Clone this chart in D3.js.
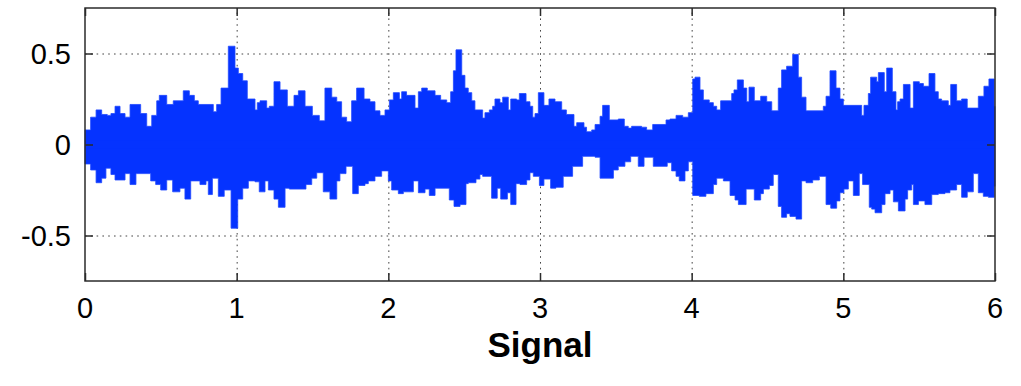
<!DOCTYPE html>
<meta charset="utf-8">
<script src="https://d3js.org/d3.v7.min.js"></script>
<style>
body { margin: 0; background: #fff; }
svg { font-family: "Liberation Sans", Arial, sans-serif; }
.grid line { stroke: #444; stroke-dasharray: 1.6,4.2; }
.grid path { stroke-width: 0; }
.tick-label { font-size: 29px; fill: #000; }
</style>
<body>
<div id="my_dataviz"></div>
<script>
// tick values
var xTicks = [0, 1, 2, 3, 4, 5, 6];
var yTicks = [-0.5, 0, 0.5];

// upper envelope of the signal (time in s, amplitude)
var upT = [0.00,0.037,0.073,0.11,0.147,0.171,0.198,0.231,0.264,0.297,0.367,0.407,0.44,0.473,0.49,0.539,0.582,0.648,0.688,0.721,
  0.747,0.846,0.868,0.897,0.945,0.989,1.011,1.04,1.07,1.121,1.136,1.154,1.198,1.215,1.246,1.286,1.334,1.378,1.407,1.451,
  1.499,1.545,1.582,1.627,1.66,1.692,1.725,1.758,1.791,1.84,1.879,1.912,1.945,1.978,2.007,2.033,2.073,2.088,2.12,2.176,
  2.198,2.22,2.257,2.308,2.345,2.385,2.411,2.429,2.446,2.484,2.505,2.527,2.55,2.571,2.622,2.637,2.666,2.688,2.703,2.736,
  2.754,2.791,2.807,2.846,2.864,2.908,2.934,2.952,2.967,2.989,3.026,3.059,3.099,3.143,3.174,3.224,3.242,3.29,3.307,3.341,
  3.363,3.396,3.413,3.457,3.516,3.556,3.582,3.604,3.67,3.703,3.743,3.831,3.857,3.897,3.941,3.978,4.007,4.022,4.055,4.077,
  4.116,4.143,4.165,4.191,4.264,4.279,4.301,4.341,4.363,4.378,4.413,4.455,4.495,4.528,4.571,4.593,4.626,4.666,4.703,4.725,
  4.754,4.868,4.886,4.912,4.952,4.978,5.0,5.121,5.136,5.165,5.18,5.22,5.231,5.27,5.286,5.323,5.347,5.358,5.374,5.396,
  5.44,5.462,5.501,5.528,5.565,5.604,5.626,5.648,5.692,5.708,5.747,5.78,5.817,5.89,5.927,5.96,5.995,6.0];
var upV = [0.08,0.15,0.19,0.165,0.16,0.17,0.21,0.17,0.15,0.22,0.17,0.10,0.16,0.24,0.27,0.22,0.24,0.295,0.27,0.24,
  0.22,0.18,0.22,0.31,0.54,0.42,0.39,0.35,0.25,0.19,0.23,0.24,0.20,0.21,0.345,0.30,0.21,0.27,0.295,0.21,
  0.16,0.13,0.31,0.26,0.235,0.15,0.125,0.24,0.31,0.25,0.235,0.185,0.16,0.19,0.245,0.285,0.25,0.29,0.27,0.20,
  0.29,0.31,0.295,0.27,0.245,0.23,0.29,0.405,0.52,0.38,0.31,0.285,0.24,0.19,0.145,0.175,0.19,0.21,0.25,0.23,
  0.26,0.19,0.25,0.245,0.28,0.235,0.21,0.15,0.17,0.285,0.215,0.25,0.235,0.19,0.165,0.10,0.12,0.095,0.07,0.08,
  0.11,0.155,0.215,0.135,0.14,0.10,0.09,0.10,0.095,0.08,0.11,0.135,0.14,0.16,0.15,0.175,0.36,0.37,0.30,0.245,
  0.23,0.21,0.19,0.24,0.28,0.30,0.355,0.31,0.235,0.315,0.24,0.265,0.235,0.185,0.31,0.41,0.43,0.495,0.37,0.26,
  0.185,0.21,0.265,0.405,0.31,0.25,0.215,0.16,0.215,0.28,0.37,0.345,0.395,0.29,0.42,0.29,0.19,0.235,0.25,0.33,
  0.20,0.345,0.335,0.32,0.39,0.29,0.25,0.24,0.215,0.33,0.24,0.25,0.20,0.265,0.32,0.36,0.21,0.21];

// lower envelope of the signal
var loT = [0.00,0.037,0.073,0.11,0.138,0.171,0.198,0.264,0.297,0.336,0.433,0.466,0.499,0.539,0.578,0.626,0.659,0.697,0.758,0.798,
  0.813,0.84,0.879,0.918,0.963,1.007,1.04,1.077,1.121,1.149,1.187,1.209,1.246,1.275,1.319,1.347,1.457,1.495,1.528,1.571,
  1.615,1.66,1.681,1.721,1.765,1.802,1.846,1.868,1.912,1.956,2.0,2.022,2.066,2.099,2.165,2.198,2.242,2.27,2.308,2.402,
  2.433,2.473,2.512,2.527,2.578,2.604,2.622,2.681,2.718,2.741,2.785,2.807,2.842,2.868,2.912,2.934,2.956,2.996,3.026,3.07,
  3.105,3.153,3.215,3.281,3.363,3.396,3.484,3.516,3.56,3.598,3.648,3.686,3.747,3.839,3.868,3.897,3.918,3.956,3.978,4.007,
  4.05,4.094,4.143,4.165,4.209,4.253,4.286,4.308,4.359,4.413,4.455,4.473,4.512,4.538,4.571,4.593,4.626,4.648,4.688,4.725,
  4.754,4.798,4.842,4.886,4.917,4.956,4.978,5.004,5.033,5.066,5.105,5.127,5.171,5.187,5.209,5.253,5.275,5.308,5.33,5.363,
  5.407,5.424,5.451,5.462,5.495,5.538,5.583,5.626,5.67,5.703,5.747,5.78,5.817,5.857,5.89,5.923,5.956,5.995,6.0];
var loV = [-0.107,-0.14,-0.21,-0.185,-0.13,-0.165,-0.195,-0.16,-0.22,-0.16,-0.20,-0.22,-0.25,-0.195,-0.26,-0.24,-0.30,-0.20,-0.22,-0.20,
  -0.275,-0.185,-0.285,-0.25,-0.46,-0.30,-0.24,-0.20,-0.205,-0.26,-0.20,-0.25,-0.30,-0.345,-0.24,-0.245,-0.22,-0.185,-0.155,-0.26,
  -0.30,-0.20,-0.16,-0.12,-0.27,-0.225,-0.215,-0.20,-0.175,-0.145,-0.20,-0.25,-0.27,-0.26,-0.20,-0.265,-0.245,-0.28,-0.24,-0.305,
  -0.34,-0.33,-0.215,-0.21,-0.19,-0.165,-0.175,-0.295,-0.24,-0.30,-0.265,-0.33,-0.215,-0.22,-0.195,-0.155,-0.175,-0.225,-0.19,-0.24,
  -0.235,-0.175,-0.12,-0.065,-0.07,-0.185,-0.14,-0.12,-0.095,-0.065,-0.12,-0.07,-0.12,-0.10,-0.145,-0.175,-0.20,-0.145,-0.095,-0.28,
  -0.285,-0.27,-0.22,-0.185,-0.20,-0.28,-0.305,-0.33,-0.245,-0.305,-0.27,-0.245,-0.225,-0.165,-0.34,-0.40,-0.38,-0.395,-0.41,-0.20,
  -0.21,-0.195,-0.175,-0.33,-0.35,-0.31,-0.265,-0.245,-0.20,-0.28,-0.16,-0.22,-0.345,-0.355,-0.375,-0.33,-0.27,-0.25,-0.315,-0.365,
  -0.30,-0.25,-0.22,-0.33,-0.31,-0.33,-0.275,-0.27,-0.265,-0.25,-0.22,-0.29,-0.26,-0.16,-0.265,-0.285,-0.29,-0.23,-0.23];

var margin = {top: 8, right: 26, bottom: 105, left: 85};
var width = 1021 - margin.left - margin.right;
var height = 386 - margin.top - margin.bottom;

var svg = d3.select("#my_dataviz").append("svg")
    .attr("width", 1021)
    .attr("height", 386)
    .append("g")
    .attr("transform", "translate(" + margin.left + "," + margin.top + ")");

var xScale = d3.scaleLinear().domain([0, 6]).range([0, width]);
var yScale = d3.scaleLinear().domain([-0.75, 0.75]).range([height, 0]);

// dotted grid
svg.append("g")
    .attr("class", "grid")
    .attr("transform", "translate(0," + height + ")")
    .call(d3.axisBottom(xScale).tickValues(xTicks.slice(1, -1)).tickSize(-height).tickFormat(""));
svg.append("g")
    .attr("class", "grid")
    .call(d3.axisLeft(yScale).tickValues(yTicks).tickSize(-width).tickFormat(""));

// signal band: upper and lower envelopes as step areas
var up = upT.map(function(t, i) { return {t: t, v: upV[i]}; });
var lo = loT.map(function(t, i) { return {t: t, v: loV[i]}; });
var area = d3.area()
    .curve(d3.curveStepAfter)
    .x(function(d) { return xScale(d.t); })
    .y0(yScale(0))
    .y1(function(d) { return yScale(d.v); });

svg.append("path").datum(up)
    .attr("d", area)
    .attr("fill", "#0533ff")
    .attr("stroke", "#1f48ff")
    .attr("stroke-width", 0.8);
svg.append("path").datum(lo)
    .attr("d", area)
    .attr("fill", "#0533ff")
    .attr("stroke", "#1f48ff")
    .attr("stroke-width", 0.8);
// cover the seam at zero
svg.append("rect")
    .attr("x", 0).attr("width", width)
    .attr("y", yScale(0.02)).attr("height", yScale(-0.02) - yScale(0.02))
    .attr("fill", "#0533ff");

// axes, ticks inside on all four sides
var frameCol = "#2b2b2b";
function styleAxis(g) {
    g.select(".domain").remove();
    g.selectAll(".tick line").attr("stroke", frameCol).attr("stroke-width", 1.5);
}
svg.append("g")
    .attr("transform", "translate(0," + height + ")")
    .call(d3.axisBottom(xScale).tickValues(xTicks).tickSize(-8).tickFormat(""))
    .call(styleAxis);
svg.append("g")
    .call(d3.axisTop(xScale).tickValues(xTicks).tickSize(-8).tickFormat(""))
    .call(styleAxis);
svg.append("g")
    .call(d3.axisLeft(yScale).tickValues(yTicks).tickSize(-8).tickFormat(""))
    .call(styleAxis);
svg.append("g")
    .attr("transform", "translate(" + width + ",0)")
    .call(d3.axisRight(yScale).tickValues(yTicks).tickSize(-8).tickFormat(""))
    .call(styleAxis);

svg.append("rect")
    .attr("width", width)
    .attr("height", height)
    .attr("fill", "none")
    .attr("stroke", frameCol)
    .attr("stroke-width", 1.5);

// tick labels
svg.selectAll(".xlab")
    .data(xTicks)
    .enter().append("text")
    .attr("class", "tick-label")
    .attr("x", function(d) { return xScale(d); })
    .attr("y", height + 37)
    .attr("text-anchor", "middle")
    .text(function(d) { return d; });
svg.selectAll(".ylab")
    .data(yTicks)
    .enter().append("text")
    .attr("class", "tick-label")
    .attr("x", -14)
    .attr("y", function(d) { return yScale(d) + 10; })
    .attr("text-anchor", "end")
    .text(function(d) { return d; });

// x-axis label
svg.append("text")
    .attr("x", width / 2)
    .attr("y", height + 76)
    .attr("font-size", "35px")
    .attr("font-weight", "bold")
    .attr("text-anchor", "middle")
    .text("Signal");
</script>
</body>
